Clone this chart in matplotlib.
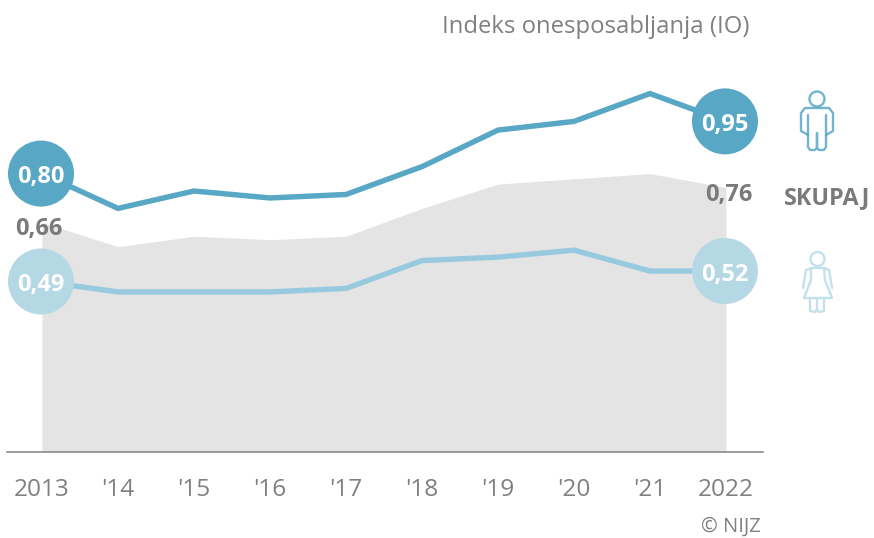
#!/usr/bin/env python3
"""Indeks onesposabljanja (IO), 2013-2022."""

import matplotlib
matplotlib.use("Agg")
import matplotlib.pyplot as plt
from matplotlib.patches import Circle, Polygon

years = [2013, 2014, 2015, 2016, 2017, 2018, 2019, 2020, 2021, 2022]
tick_labels = ["2013", "'14", "'15", "'16", "'17", "'18", "'19", "'20", "'21", "2022"]
men = [0.80, 0.70, 0.75, 0.73, 0.74, 0.82, 0.925, 0.95, 1.03, 0.95]
women = [0.49, 0.46, 0.46, 0.46, 0.47, 0.55, 0.56, 0.58, 0.52, 0.52]
total = [0.66, 0.59, 0.62, 0.61, 0.62, 0.70, 0.77, 0.785, 0.80, 0.76]

DARK = "#58a7c5"
LIGHT = "#98cadf"
LIGHT_DOT = "#b5d8e5"
ICON_LIGHT = "#c3e1ec"
GREY = "#7a7a7a"
W, H = 874, 538

plt.rcParams["font.family"] = ["Open Sans", "DejaVu Sans"]

fig = plt.figure(figsize=(W / 100, H / 100), dpi=100)
ax = fig.add_axes([7 / W, (H - 452) / H, 756 / W, 452 / H])
ax.set_xlim(2013 - 35 / 76, 2022 + 37 / 76)
ax.set_ylim(0, 452 / 348)
ax.patch.set_alpha(0)

ax.fill_between(years, total, 0, color="#e4e4e4", lw=0, zorder=1)
ax.plot(years, women, color=LIGHT, lw=3.9, solid_joinstyle="miter", zorder=2)
ax.plot(years, men, color=DARK, lw=3.9, solid_joinstyle="miter", zorder=2)

for s in ["top", "left", "right"]:
    ax.spines[s].set_visible(False)
ax.spines["bottom"].set_color("#8c8c8c")
ax.spines["bottom"].set_linewidth(1.2)
ax.set_yticks([])
ax.set_xticks(years)
ax.set_xticklabels(tick_labels, fontsize=17.6, color="#808080")
ax.tick_params(axis="x", length=0, pad=18.5)

# overlay in pixel coordinates for end bubbles, icons and loose labels
ov = fig.add_axes([0, 0, 1, 1])
ov.set_xlim(0, W)
ov.set_ylim(H, 0)
ov.axis("off")
ov.patch.set_alpha(0)


def to_px(x, y):
    px, py = ax.transData.transform((x, y))
    return px * W / fig.bbox.width, H - py * H / fig.bbox.height


def bubble(x, y, color):
    px, py = to_px(x, y)
    ov.add_patch(Circle((px - 1, py), 33, color=color, lw=0, zorder=3))
    ov.text(px - 1, py + 3.5, f"{y:.2f}".replace(".", ","), color="white", fontsize=17,
            fontweight="bold", ha="center", va="center", zorder=4)


bubble(years[0], men[0], DARK)
bubble(years[-1], men[-1], DARK)
bubble(years[0], women[0], LIGHT_DOT)
bubble(years[-1], women[-1], LIGHT_DOT)

ov.text(39, 229, "0,66", color=GREY, fontsize=17, fontweight="bold", ha="center", va="center")
ov.text(729, 195, "0,76", color=GREY, fontsize=17, fontweight="bold", ha="center", va="center")
ov.text(827.5, 198, "SKUPAJ", color=GREY, fontsize=16.8, fontweight="bold", ha="center", va="center")
ov.text(749, 27, "Indeks onesposabljanja (IO)", color="#808080", fontsize=17.2, ha="right", va="center")
ov.text(761, 527, "© NIJZ", color="#808080", fontsize=14.5, ha="right", va="center")

# man icon
man_kw = dict(color=DARK, lw=1.7, solid_joinstyle="round", solid_capstyle="round", alpha=0.85)
ov.add_patch(Circle((817, 99), 7.5, fill=False, ec=DARK, lw=1.7, alpha=0.85))
ov.plot([808, 801, 801, 805, 829, 833, 833, 826],
        [135, 131, 113, 108, 108, 113, 131, 135], **man_kw)
ov.plot([808, 808, 810, 815, 817, 817, 817, 819, 824, 826, 826],
        [115, 147, 150, 150, 148, 133, 148, 150, 150, 147, 115], **man_kw)

# woman icon
wom_kw = dict(color=ICON_LIGHT, lw=1.7, solid_joinstyle="round", solid_capstyle="round")
ov.add_patch(Circle((817.5, 259), 7, fill=False, ec=ICON_LIGHT, lw=1.7))
ov.add_patch(Polygon([(811, 268), (824, 268), (825, 280), (832, 298), (804, 298), (811, 280)],
                     closed=True, fill=False, ec=ICON_LIGHT, lw=1.7, joinstyle="round"))
ov.plot([811, 806, 803], [268, 270, 288], **wom_kw)
ov.plot([824, 829, 832], [268, 270, 288], **wom_kw)
ov.plot([810, 810, 815, 817, 817], [298, 311, 312, 310, 298], **wom_kw)
ov.plot([824, 824, 819, 817], [298, 311, 312, 310], **wom_kw)

fig.savefig("out.png", dpi=100)
